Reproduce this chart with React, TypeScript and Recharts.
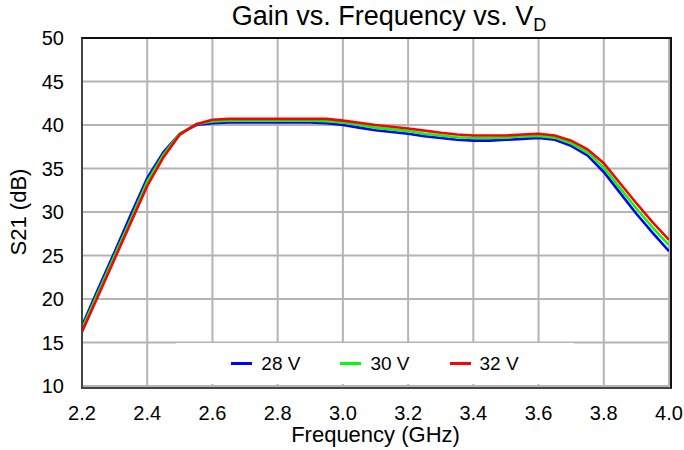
import React from 'react'
import {
  LineChart,
  Line,
  XAxis,
  YAxis,
  CartesianGrid,
} from 'recharts'

const freqs = [
  2.2, 2.25, 2.3, 2.35, 2.4, 2.45, 2.5, 2.55, 2.6, 2.65, 2.7, 2.75, 2.8, 2.85, 2.9, 2.95,
  3.0, 3.05, 3.1, 3.15, 3.2, 3.25, 3.3, 3.35, 3.4, 3.45, 3.5, 3.55, 3.6, 3.65, 3.7, 3.75,
  3.8, 3.85, 3.9, 3.95, 4.0,
]

const gain28 = [
  16.9, 21.2, 25.4, 29.7, 33.9, 36.9, 39.0, 40.0, 40.2, 40.3, 40.3, 40.3, 40.3, 40.3, 40.3, 40.2,
  40.0, 39.7, 39.4, 39.2, 39.0, 38.7, 38.5, 38.3, 38.2, 38.2, 38.3, 38.4, 38.5, 38.3, 37.6, 36.5,
  34.6, 32.2, 29.8, 27.6, 25.5,
]

const gain30 = [
  16.6, 20.8, 25.0, 29.2, 33.5, 36.6, 39.0, 40.1, 40.4, 40.5, 40.5, 40.5, 40.5, 40.5, 40.5, 40.45,
  40.3, 40.0, 39.7, 39.5, 39.3, 39.0, 38.8, 38.6, 38.5, 38.5, 38.55, 38.7, 38.75, 38.55, 37.9, 36.85,
  35.1, 32.75, 30.4, 28.2, 26.2,
]

const gain32 = [
  16.2, 20.4, 24.6, 28.8, 33.0, 36.3, 38.9, 40.1, 40.6, 40.7, 40.7, 40.7, 40.7, 40.7, 40.7, 40.7,
  40.5, 40.25, 40.0, 39.8, 39.6, 39.35, 39.1, 38.9, 38.8, 38.8, 38.8, 38.9, 39.0, 38.8, 38.2, 37.2,
  35.6, 33.3, 31.0, 28.8, 26.8,
]

const xTicks = [2.2, 2.4, 2.6, 2.8, 3.0, 3.2, 3.4, 3.6, 3.8, 4.0]
const yTicks = [10, 15, 20, 25, 30, 35, 40, 45, 50]

const series = [
  { key: 'v28', name: '28 V', color: '#0000ff', values: gain28 },
  { key: 'v30', name: '30 V', color: '#00ff00', values: gain30 },
  { key: 'v32', name: '32 V', color: '#ff0000', values: gain32 },
]

const data = freqs.map((f, i) => {
  const row: any = { f }
  series.forEach((s) => {
    row[s.key] = s.values[i]
  })
  return row
})

const FONT = '"Liberation Sans", Arial, sans-serif'

// plot rectangle in page pixels
const PLOT = { left: 82, top: 38, right: 669, bottom: 386 }
const X_AXIS_H = 30

export default function App() {
  return (
    <div
      style={{
        position: 'absolute',
        left: 0,
        top: 0,
        width: 684,
        height: 450,
        background: '#fff',
        fontFamily: FONT,
      }}
    >
      <LineChart
        width={684}
        height={450}
        data={data}
        margin={{
          top: PLOT.top,
          right: 684 - PLOT.right,
          bottom: 450 - PLOT.bottom - X_AXIS_H,
          left: 0,
        }}
      >
        <CartesianGrid stroke="#b4b4b4" strokeWidth={2} />
        <XAxis
          dataKey="f"
          type="number"
          domain={[2.2, 4.0]}
          ticks={xTicks}
          tickFormatter={(v: number) => v.toFixed(1)}
          tickLine={false}
          axisLine={false}
          height={X_AXIS_H}
          tickMargin={14}
          tick={{ fill: '#000', fontSize: 20, fontFamily: FONT }}
          interval={0}
          allowDataOverflow
        />
        <YAxis
          type="number"
          domain={[10, 50]}
          ticks={yTicks}
          tickLine={false}
          axisLine={false}
          width={PLOT.left}
          tickMargin={12}
          tick={{ fill: '#000', fontSize: 20, fontFamily: FONT }}
          interval={0}
        />
        {series.map((s) => (
          <Line
            key={s.key}
            type="linear"
            dataKey={s.key}
            name={s.name}
            stroke={s.color}
            strokeWidth={2.6}
            dot={false}
            isAnimationActive={false}
          />
        ))}
      </LineChart>

      {/* frame round the plot */}
      <div
        style={{
          position: 'absolute',
          left: PLOT.left - 1,
          top: PLOT.top - 1,
          width: PLOT.right - PLOT.left,
          height: PLOT.bottom - PLOT.top,
          borderTop: '2px solid #111',
          borderRight: '2px solid #111',
          borderLeft: '2px solid #444',
          borderBottom: '2px solid #444',
          pointerEvents: 'none',
        }}
      />

      {/* legend box inside the plot */}
      <div
        style={{
          position: 'absolute',
          left: 176,
          top: 343,
          width: 398,
          height: 41,
          background: '#fff',
          display: 'flex',
          alignItems: 'center',
          justifyContent: 'center',
          gap: 40,
          fontSize: 19,
          color: '#000',
        }}
      >
        {series.map((s) => (
          <div key={s.key} style={{ display: 'flex', alignItems: 'center' }}>
            <div style={{ width: 21, height: 3, background: s.color, marginRight: 9 }} />
            <span>{s.name}</span>
          </div>
        ))}
      </div>

      {/* title */}
      <div
        style={{
          position: 'absolute',
          left: 0,
          top: 1,
          width: 684,
          paddingLeft: 94,
          boxSizing: 'border-box',
          textAlign: 'center',
          fontSize: 27,
          color: '#000',
          whiteSpace: 'nowrap',
        }}
      >
        Gain vs. Frequency vs. V<sub style={{ fontSize: 18, verticalAlign: -6 }}>D</sub>
      </div>

      {/* axis titles */}
      <div
        style={{
          position: 'absolute',
          left: PLOT.left,
          width: PLOT.right - PLOT.left,
          top: 422,
          textAlign: 'center',
          fontSize: 22,
          color: '#000',
        }}
      >
        Frequency (GHz)
      </div>
      <div
        style={{
          position: 'absolute',
          left: 19,
          top: 212,
          transform: 'translate(-50%, -50%) rotate(-90deg)',
          fontSize: 22,
          color: '#000',
          whiteSpace: 'nowrap',
        }}
      >
        S21 (dB)
      </div>
    </div>
  )
}
